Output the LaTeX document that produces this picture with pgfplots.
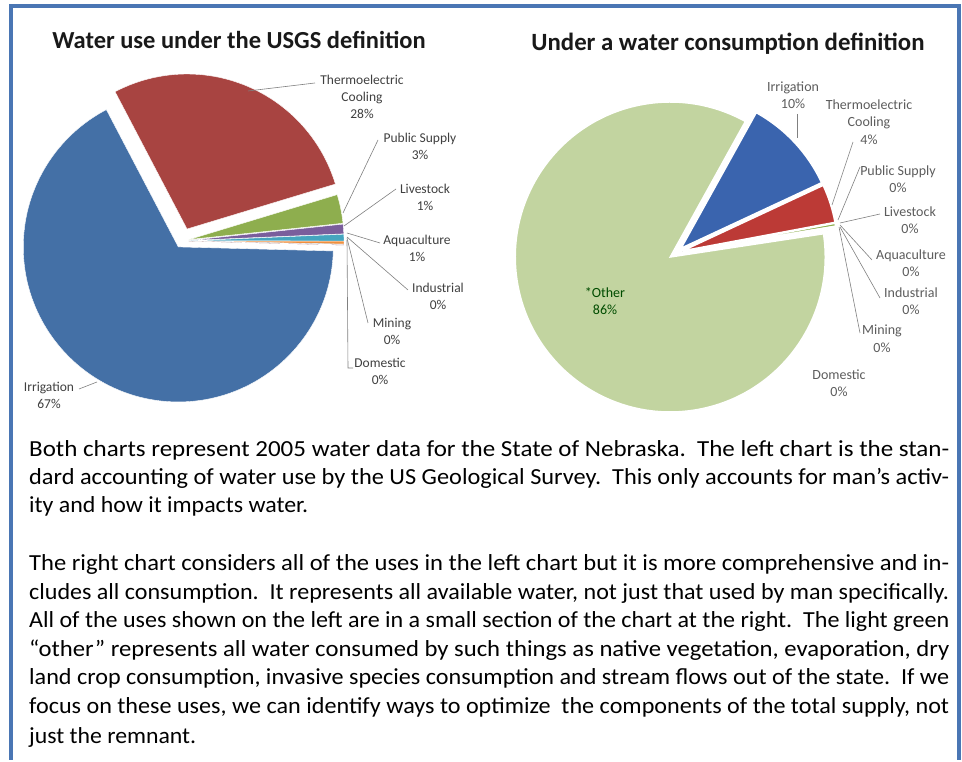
\documentclass[border=0pt]{standalone}
\usepackage{fontspec}
\setmainfont{Carlito}
\usepackage{graphicx}
\usepackage{pgfplots}
\usepackage{pgfplotstable}
\pgfplotsset{compat=1.18}

\definecolor{frameblue}{HTML}{4A76B4}
\definecolor{sirr}{HTML}{4470A6}
\definecolor{sthe}{HTML}{A84441}
\definecolor{spub}{HTML}{8EAE4E}
\definecolor{sliv}{HTML}{7A5E9C}
\definecolor{saqu}{HTML}{45A5BF}
\definecolor{sind}{HTML}{F0903E}
\definecolor{smin}{HTML}{2C4D75}
\definecolor{sdom}{HTML}{772C2A}
\definecolor{cirr}{HTML}{3A64AE}
\definecolor{cthe}{HTML}{BC3A36}
\definecolor{coth}{HTML}{C2D4A0}
\definecolor{labgray}{HTML}{404040}

% USGS water use, Nebraska 2005 (percent)
\pgfplotstableread{
use value explode col
Irrigation 66.9 7 sirr
Thermoelectric 28.0 13 sthe
PublicSupply 3.0 7 spub
Livestock 1.0 7 sliv
Aquaculture 0.7 7 saqu
Industrial 0.3 7 sind
Mining 0.05 7 smin
Domestic 0.05 7 sdom
}\usgsdata

% consumption definition (percent)
\pgfplotstableread{
use value explode col
Irrigation 10.0 7 cirr
Thermoelectric 4.0 7 cthe
PublicSupply 0.3 7 spub
Livestock 0.1 7 sliv
Aquaculture 0.05 7 saqu
Industrial 0.05 7 sind
Mining 0.03 7 smin
Domestic 0.02 7 sdom
Other 85.45 7 coth
}\consdata

\pgfplotstablecreatecol[create col/expr accum={\pgfmathaccuma+\thisrow{value}}{0}]{cum}\usgsdata
\pgfplotstablecreatecol[create col/expr accum={\pgfmathaccuma+\thisrow{value}}{0}]{cum}\consdata

% #1 table, #2 cx, #3 cy, #4 start angle (clockwise), #5 radius, #6 edge width
\newcommand\drawpie[6]{%
  \pgfplotstablegetrowsof{#1}%
  \pgfmathtruncatemacro\lastrow{\pgfplotsretval-1}%
  \foreach \i in {0,...,\lastrow}{%
    \pgfplotstablegetelem{\i}{value}\of#1\let\pval\pgfplotsretval
    \pgfplotstablegetelem{\i}{cum}\of#1\let\pcum\pgfplotsretval
    \pgfplotstablegetelem{\i}{explode}\of#1\let\pexp\pgfplotsretval
    \pgfplotstablegetelem{\i}{col}\of#1\let\pcol\pgfplotsretval
    \pgfmathsetmacro\aend{#4-3.6*\pcum}%
    \pgfmathsetmacro\astart{\aend+3.6*\pval}%
    \pgfmathsetmacro\amid{(\astart+\aend)/2}%
    \fill[fill=\pcol, draw=white, line width=#6] (axis cs:#2,#3) ++(\amid:\pexp pt)
      -- ++(\astart:#5 pt) arc[start angle=\astart, end angle=\aend, radius=#5 pt] -- cycle;
  }%
}

% one line of the note, squeezed to a given width
\newcommand\tl[2]{\resizebox{#1}{\height}{#2}}

\begin{document}
\begin{tikzpicture}[
  lab/.style={font=\fontsize{13.5}{17}\selectfont, text=labgray, align=center, inner sep=0pt},
  rlab/.style={font=\fontsize{14}{17.5}\selectfont, text=labgray!85, align=center, inner sep=0pt},
  lead/.style={gray, line width=0.6pt}]
\begin{axis}[x=1pt, y=1pt, xmin=0, xmax=962, ymin=0, ymax=760,
  hide axis, clip=false]
  \fill[white] (axis cs:0,0) rectangle (axis cs:962,760);
  \pgfplotsextra{
    \drawpie{\usgsdata}{182}{519}{-1.5}{155}{0.4pt}
    \drawpie{\consdata}{676}{507}{61}{155}{1.5pt}
  }
  % frame
  \draw[frameblue, line width=4pt] (axis cs:11,0) -- (axis cs:11,754) -- (axis cs:959,754) -- (axis cs:959,0);
  % titles
  \node[font=\fontsize{24.5}{28}\selectfont\bfseries, text=black!90] at (axis cs:239,720) {Water use under the USGS definition};
  \node[font=\fontsize{24.8}{28}\selectfont\bfseries, text=black!90] at (axis cs:728,716) {Under a water consumption definition};
  % left labels
  \draw[lead] (axis cs:248,669) -- (axis cs:315,677);
  \node[lab] at (axis cs:362,663) {Thermoelectric\\Cooling\\28\%};
  \draw[lead] (axis cs:343,547) -- (axis cs:378,620);
  \node[lab] at (axis cs:420,614) {Public Supply\\3\%};
  \draw[lead] (axis cs:344,534) -- (axis cs:396,571);
  \node[lab] at (axis cs:425,563) {Livestock\\1\%};
  \draw[lead] (axis cs:347,527) -- (axis cs:380,517);
  \node[lab] at (axis cs:417,512) {Aquaculture\\1\%};
  \draw[lead] (axis cs:347,523) -- (axis cs:408,470);
  \node[lab] at (axis cs:438,464) {Industrial\\0\%};
  \draw[lead] (axis cs:347,522) -- (axis cs:368,437);
  \node[lab] at (axis cs:392,429) {Mining\\0\%};
  \draw[lead] (axis cs:347,520) -- (axis cs:348,392) -- (axis cs:353,392);
  \node[lab] at (axis cs:380,389) {Domestic\\0\%};
  \draw[lead] (axis cs:79,371) -- (axis cs:97,378);
  \node[lab] at (axis cs:49,365) {Irrigation\\67\%};
  % right labels
  \draw[lead] (axis cs:797,646) -- (axis cs:797,622);
  \node[rlab] at (axis cs:793,665) {Irrigation\\10\%};
  \draw[lead] (axis cs:832,555) -- (axis cs:853,618);
  \node[rlab] at (axis cs:869,638) {Thermoelectric\\Cooling\\4\%};
  \draw[lead] (axis cs:838,540) -- (axis cs:860,593);
  \node[rlab] at (axis cs:898,581) {Public Supply\\0\%};
  \draw[lead] (axis cs:840,537) -- (axis cs:880,546);
  \node[rlab] at (axis cs:910,540) {Livestock\\0\%};
  \draw[lead] (axis cs:840,535) -- (axis cs:872,500);
  \node[rlab] at (axis cs:911,497) {Aquaculture\\0\%};
  \draw[lead] (axis cs:840,533) -- (axis cs:880,462);
  \node[rlab] at (axis cs:911,459) {Industrial\\0\%};
  \draw[lead] (axis cs:839,533) -- (axis cs:860,427);
  \node[rlab] at (axis cs:882,421) {Mining\\0\%};
  \node[rlab] at (axis cs:839,377) {Domestic\\0\%};
  \node[rlab, text=green!30!black] at (axis cs:605,459) {*Other\\86\%};
  % body text
  \begin{scope}[every node/.style={anchor=base west, inner sep=0pt, font=\fontsize{23}{28}\selectfont}]
  \node at (axis cs:29,303) {\tl{920pt}{Both charts represent 2005 water data for the State of Nebraska.\ \ The left chart is the stan-}};
  \node at (axis cs:29,275) {\tl{920pt}{dard accounting of water use by the US Geological Survey.\ \ This only accounts for man’s activ-}};
  \node at (axis cs:29,247) {\tl{279pt}{ity and how it impacts water.}};
  \node at (axis cs:29,189) {\tl{920pt}{The right chart considers all of the uses in the left chart but it is more comprehensive and in-}};
  \node at (axis cs:29,160) {\tl{920pt}{cludes all consumption.\ \ It represents all available water, not just that used by man specifically.}};
  \node at (axis cs:29,132) {\tl{920pt}{All of the uses shown on the left are in a small section of the chart at the right.\ \ The light green}};
  \node at (axis cs:29,103) {\tl{920pt}{“other” represents all water consumed by such things as native vegetation, evaporation, dry}};
  \node at (axis cs:29,75) {\tl{920pt}{land crop consumption, invasive species consumption and stream flows out of the state.\ \ If we}};
  \node at (axis cs:29,46) {\tl{920pt}{focus on these uses, we can identify ways to optimize\ \ the components of the total supply, not}};
  \node at (axis cs:29,16) {\tl{167pt}{just the remnant.}};
  \end{scope}
\end{axis}
\end{tikzpicture}
\end{document}
